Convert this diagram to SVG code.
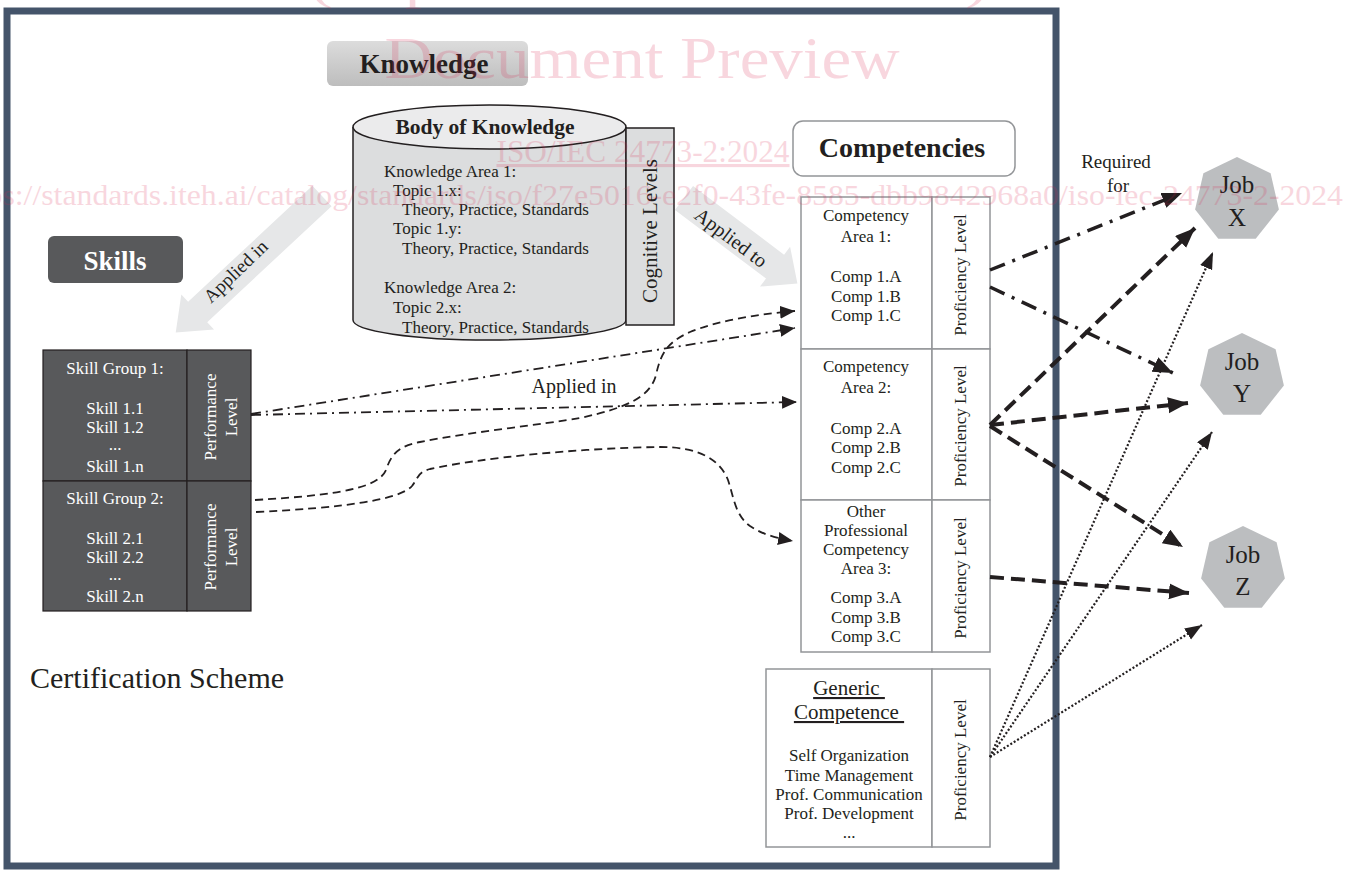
<svg xmlns="http://www.w3.org/2000/svg" width="1355" height="871" viewBox="0 0 1355 871">
<defs>
<style>
.t{font-family:"Liberation Serif","Times New Roman",serif;font-size:17px;fill:#231f20}
.m{text-anchor:middle}
.w{fill:#ffffff}
.b{font-weight:bold}
.cell{fill:#ffffff;stroke:#939598;stroke-width:1.5}
.dcell{fill:#58595b;stroke:#231f20;stroke-width:1.2}
.conn{fill:none;stroke:#231f20}
.dd{stroke-width:1.8;stroke-dasharray:10 5 2 5}
.ds{stroke-width:1.8;stroke-dasharray:8 5}
.DD{stroke-width:3.5;stroke-dasharray:16 8 3 8}
.DS{stroke-width:4;stroke-dasharray:14 7}
.dt{stroke-width:2.2;stroke-dasharray:2 2}
.job{fill:#bcbec0}
.garrow{fill:#e6e7e8}
.wm{font-family:"Liberation Serif","Times New Roman",serif;fill:#d9254f;opacity:0.18}
</style>
<linearGradient id="kg" x1="0" y1="0" x2="0" y2="1">
<stop offset="0" stop-color="#dcdcdc"/><stop offset="1" stop-color="#bdbdbd"/>
</linearGradient>
<marker id="ah" markerUnits="userSpaceOnUse" markerWidth="22" markerHeight="18" refX="20" refY="8" orient="auto"><path d="M0,0 L20,8 L0,16 z" fill="#231f20"/></marker>
<marker id="am" markerUnits="userSpaceOnUse" markerWidth="18" markerHeight="14" refX="17" refY="6.5" orient="auto"><path d="M0,0 L17,6.5 L0,13 z" fill="#231f20"/></marker>
<marker id="as" markerUnits="userSpaceOnUse" markerWidth="16" markerHeight="14" refX="15" refY="6.5" orient="auto"><path d="M0,0 L15,6.5 L0,13 z" fill="#231f20"/></marker>
</defs>

<rect id="frame" x="7" y="11" width="1049" height="855" fill="none" stroke="#44546a" stroke-width="7"/>

<g id="knowledge-label">
<rect x="327" y="41" width="201" height="45" rx="6" fill="url(#kg)"/>
<text class="t b m" x="424" y="73" style="font-size:27px">Knowledge</text>
</g>

<g id="body-of-knowledge">
<path d="M353,127 L353,320 A136.5,20 0 0 0 626,320 L626,127" fill="#dcddde" stroke="#231f20" stroke-width="1.5"/>
<ellipse cx="489.5" cy="127" rx="136.5" ry="22" fill="#ebebec" stroke="#231f20" stroke-width="1.5"/>
<text class="t b m" x="485" y="134" style="font-size:21.5px">Body of Knowledge</text>
<text class="t" x="384" y="177">Knowledge Area 1:</text>
<text class="t" x="393" y="196">Topic 1.x:</text>
<text class="t" x="402" y="215">Theory, Practice, Standards</text>
<text class="t" x="393" y="234">Topic 1.y:</text>
<text class="t" x="402" y="254">Theory, Practice, Standards</text>
<text class="t" x="384" y="293">Knowledge Area 2:</text>
<text class="t" x="393" y="313">Topic 2.x:</text>
<text class="t" x="402" y="333">Theory, Practice, Standards</text>
</g>

<g id="cognitive-levels">
<rect x="626" y="128" width="48" height="197" fill="#dcddde" stroke="#231f20" stroke-width="1.5"/>
<text class="t m" transform="translate(657,231) rotate(-90)" style="font-size:21px">Cognitive Levels</text>
</g>

<g id="skills-label">
<rect x="48" y="236" width="135" height="47" rx="6" fill="#58595b"/>
<text class="t b m w" x="115" y="270" style="font-size:27px">Skills</text>
</g>

<g id="applied-in-arrow">
<polygon class="garrow" transform="translate(322,196) rotate(137)" points="0,-14 170,-14 170,-24 200,0 170,24 170,14 0,14"/>
<text class="t m" transform="translate(240,276) rotate(-44)" style="font-size:19px">Applied in</text>
</g>

<g id="applied-to-arrow">
<polygon class="garrow" transform="translate(684,198) rotate(37)" points="0,-15 114,-15 114,-25 142,0 114,25 114,15 0,15"/>
<text class="t m" transform="translate(727,243) rotate(37)" style="font-size:20px">Applied to</text>
</g>

<g id="competencies-label">
<rect x="793" y="121" width="222" height="55" rx="10" fill="#ffffff" stroke="#939598" stroke-width="1.5"/>
<text class="t b m" x="902" y="157" style="font-size:28px">Competencies</text>
</g>

<g id="skill-group-1">
<rect class="dcell" x="43" y="350" width="144" height="131"/>
<rect class="dcell" x="187" y="350" width="64" height="131"/>
<text class="t m w" x="115" y="374">Skill Group 1:</text>
<text class="t m w" x="115" y="414">Skill 1.1</text>
<text class="t m w" x="115" y="433">Skill 1.2</text>
<text class="t m w" x="115" y="450">...</text>
<text class="t m w" x="115" y="472">Skill 1.n</text>
<text class="t m w" transform="translate(216,417) rotate(-90)">Performance</text>
<text class="t m w" transform="translate(237,417) rotate(-90)">Level</text>
</g>

<g id="skill-group-2">
<rect class="dcell" x="43" y="481" width="144" height="130"/>
<rect class="dcell" x="187" y="481" width="64" height="130"/>
<text class="t m w" x="115" y="504">Skill Group 2:</text>
<text class="t m w" x="115" y="544">Skill 2.1</text>
<text class="t m w" x="115" y="563">Skill 2.2</text>
<text class="t m w" x="115" y="580">...</text>
<text class="t m w" x="115" y="602">Skill 2.n</text>
<text class="t m w" transform="translate(216,547) rotate(-90)">Performance</text>
<text class="t m w" transform="translate(237,547) rotate(-90)">Level</text>
</g>

<g id="competency-area-1">
<rect class="cell" x="801" y="197" width="131" height="152"/>
<rect class="cell" x="932" y="197" width="58" height="152"/>
<text class="t m" x="866" y="221">Competency</text>
<text class="t m" x="866" y="242">Area 1:</text>
<text class="t m" x="866" y="282">Comp 1.A</text>
<text class="t m" x="866" y="302">Comp 1.B</text>
<text class="t m" x="866" y="321">Comp 1.C</text>
<text class="t m" transform="translate(966,275) rotate(-90)">Proficiency Level</text>
</g>

<g id="competency-area-2">
<rect class="cell" x="801" y="349" width="131" height="151"/>
<rect class="cell" x="932" y="349" width="58" height="151"/>
<text class="t m" x="866" y="372">Competency</text>
<text class="t m" x="866" y="393">Area 2:</text>
<text class="t m" x="866" y="434">Comp 2.A</text>
<text class="t m" x="866" y="453">Comp 2.B</text>
<text class="t m" x="866" y="473">Comp 2.C</text>
<text class="t m" transform="translate(966,426) rotate(-90)">Proficiency Level</text>
</g>

<g id="competency-area-3">
<rect class="cell" x="801" y="500" width="131" height="152"/>
<rect class="cell" x="932" y="500" width="58" height="152"/>
<text class="t m" x="866" y="517">Other</text>
<text class="t m" x="866" y="536">Professional</text>
<text class="t m" x="866" y="555">Competency</text>
<text class="t m" x="866" y="574">Area 3:</text>
<text class="t m" x="866" y="603">Comp 3.A</text>
<text class="t m" x="866" y="623">Comp 3.B</text>
<text class="t m" x="866" y="642">Comp 3.C</text>
<text class="t m" transform="translate(966,578) rotate(-90)">Proficiency Level</text>
</g>

<g id="generic-competence">
<rect class="cell" x="766" y="669" width="166" height="178"/>
<rect class="cell" x="932" y="669" width="58" height="178"/>
<text class="t m" x="849" y="695" style="font-size:21px;text-decoration:underline">Generic&#160;</text>
<text class="t m" x="849" y="719" style="font-size:21px;text-decoration:underline">Competence&#160;</text>
<text class="t m" x="849" y="761">Self Organization</text>
<text class="t m" x="849" y="781">Time Management</text>
<text class="t m" x="849" y="800">Prof. Communication</text>
<text class="t m" x="849" y="819">Prof. Development</text>
<text class="t m" x="849" y="838">...</text>
<text class="t m" transform="translate(966,760) rotate(-90)">Proficiency Level</text>
</g>

<g id="job-x">
<polygon class="job" points="1237,157 1270.6,173.2 1278.9,209.6 1255.7,238.7 1218.3,238.7 1195.1,209.6 1203.4,173.2"/>
<text class="t m" x="1237" y="193" style="font-size:25px">Job</text>
<text class="t m" x="1237" y="226" style="font-size:25px">X</text>
</g>
<g id="job-y">
<polygon class="job" points="1242,333 1275.6,349.2 1283.9,385.6 1260.7,414.7 1223.3,414.7 1200.1,385.6 1208.4,349.2"/>
<text class="t m" x="1242" y="370" style="font-size:25px">Job</text>
<text class="t m" x="1242" y="402" style="font-size:25px">Y</text>
</g>
<g id="job-z">
<polygon class="job" points="1243,526 1276.6,542.2 1284.9,578.6 1261.7,607.7 1224.3,607.7 1201.1,578.6 1209.4,542.2"/>
<text class="t m" x="1243" y="563" style="font-size:25px">Job</text>
<text class="t m" x="1243" y="595" style="font-size:25px">Z</text>
</g>

<g id="labels">
<text class="t" x="30" y="688" style="font-size:30px">Certification Scheme</text>
<text class="t m" x="1116" y="168" style="font-size:19px">Required</text>
<text class="t m" x="1118" y="192" style="font-size:19px">for</text>
<text class="t m" x="574" y="393" style="font-size:20px">Applied in</text>
</g>

<g id="connectors">
<path class="conn dd" d="M251,414 L795,328" marker-end="url(#as)"/>
<path class="conn dd" d="M251,415 L797,402" marker-end="url(#as)"/>
<path class="conn ds" d="M255,500 C340,495 378,488 386,470 C392,452 400,446 420,442 C470,432 540,425 580,418 C625,408 650,398 656,375 C661,352 668,342 690,332 C720,320 760,314 795,311" marker-end="url(#as)"/>
<path class="conn ds" d="M256,512 C340,508 400,500 412,486 C418,478 418,472 430,469 C480,458 580,448 660,447 C700,447 720,460 728,480 C734,498 735,515 750,526 C762,534 775,538 793,541" marker-end="url(#as)"/>
<path class="conn DD" d="M990,270 L1182,193" marker-end="url(#ah)"/>
<path class="conn DD" d="M990,287 L1173,373" marker-end="url(#ah)"/>
<path class="conn DS" d="M990,425 L1195,228" marker-end="url(#ah)"/>
<path class="conn DS" d="M990,425 L1188,403" marker-end="url(#ah)"/>
<path class="conn DS" d="M990,426 L1183,547" marker-end="url(#ah)"/>
<path class="conn DS" d="M990,577 L1189,593" marker-end="url(#ah)"/>
<path class="conn dt" d="M990,757 L1213,252" marker-end="url(#am)"/>
<path class="conn dt" d="M990,757 L1212,432" marker-end="url(#am)"/>
<path class="conn dt" d="M990,757 L1202,625" marker-end="url(#am)"/>
</g>

<g id="watermark">
<text class="wm m" x="649" y="-1" style="font-size:46px" textLength="678" lengthAdjust="spacingAndGlyphs">(https://standards.iteh.ai)</text>
<text class="wm m" x="642" y="78" style="font-size:60px" textLength="515" lengthAdjust="spacingAndGlyphs">Document Preview</text>
<text class="wm m" x="643" y="162" style="font-size:31px;text-decoration:underline" textLength="293" lengthAdjust="spacingAndGlyphs">ISO/IEC 24773-2:2024</text>
<text class="wm m" x="648" y="205" style="font-size:30px" textLength="1390" lengthAdjust="spacingAndGlyphs">https://standards.iteh.ai/catalog/standards/iso/f27e5016-e2f0-43fe-8585-dbb9842968a0/iso-iec-24773-2-2024</text>
</g>
</svg>
